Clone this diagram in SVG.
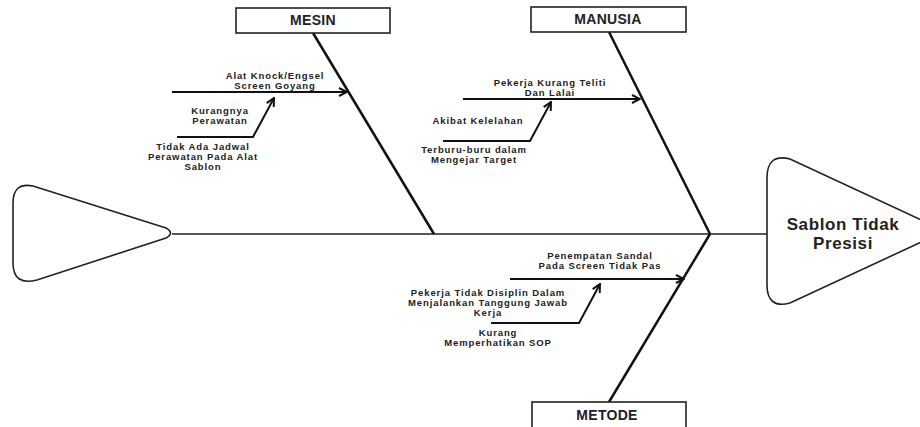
<svg xmlns="http://www.w3.org/2000/svg" width="920" height="427" viewBox="0 0 920 427">
<style>
.box{fill:#fff;stroke:#222;stroke-width:1.6}
.shape{fill:#fff;stroke:#222;stroke-width:1.6}
.title{font-family:"Liberation Sans",Arial,sans-serif;font-weight:bold;font-size:14px;fill:#222;text-anchor:middle;letter-spacing:0.3px}
.lbl{font-family:"Liberation Sans",Arial,sans-serif;font-weight:bold;font-size:9.5px;fill:#222;text-anchor:middle;letter-spacing:0.9px}
.head{font-family:"Liberation Sans",Arial,sans-serif;font-weight:bold;font-size:17px;fill:#222;text-anchor:middle;letter-spacing:0.6px}
.spine{stroke:#222;stroke-width:1.5;fill:none}
.bone{stroke:#111;stroke-width:2.5;fill:none}
.arr{stroke:#111;stroke-width:2;fill:none;marker-end:url(#ah)}
</style>
<defs>
<marker id="ah" viewBox="0 0 10 10" refX="9" refY="5" markerWidth="5" markerHeight="5" orient="auto">
<path d="M1,1 L9,5 L1,9" fill="none" stroke="#111" stroke-width="2" stroke-linejoin="miter"/>
</marker>
</defs>
<rect width="920" height="427" fill="#fff"/>
<g id="connectors">
<line class="spine" x1="172" y1="234" x2="767" y2="234"/>
<line class="bone" x1="313" y1="33" x2="434" y2="234"/>
<line class="bone" x1="609" y1="32" x2="710" y2="234"/>
<line class="bone" x1="710" y1="234" x2="609" y2="402"/>
<line class="arr" x1="172" y1="92" x2="347" y2="92"/>
<polyline class="arr" points="177,137 253,137 274,98"/>
<line class="arr" x1="463" y1="99" x2="640" y2="99"/>
<polyline class="arr" points="443,141 530,141 551,102"/>
<line class="arr" x1="510" y1="279" x2="684" y2="279"/>
<polyline class="arr" points="491,323 579,323 600,284"/>
</g>
<g id="tail">
<path class="shape" d="M13,203 Q13,182 33,186 L166,228 Q175,233 166,238 L37,280 Q13,286 13,263 Z"/>
</g>
<g id="head">
<path class="shape" d="M767,178 Q767,153 790,159 L945,231 L790,303 Q767,309 767,285 Z"/>
<text class="head" x="843" y="230">Sablon Tidak</text>
<text class="head" x="843" y="249">Presisi</text>
</g>
<g id="mesin">
<rect class="box" x="236" y="8" width="154" height="25"/>
<text class="title" x="313" y="25">MESIN</text>
</g>
<g id="manusia">
<rect class="box" x="531" y="7" width="155" height="25"/>
<text class="title" x="608" y="24">MANUSIA</text>
</g>
<g id="metode">
<rect class="box" x="532" y="402" width="154" height="30"/>
<text class="title" x="607" y="420">METODE</text>
</g>
<g id="cause-alat-knock">
<text class="lbl" x="275" y="79">Alat Knock/Engsel</text>
<text class="lbl" x="275" y="89">Screen Goyang</text>
</g>
<g id="cause-kurangnya-perawatan">
<text class="lbl" x="220" y="114">Kurangnya</text>
<text class="lbl" x="220" y="124">Perawatan</text>
</g>
<g id="cause-tidak-ada-jadwal">
<text class="lbl" x="203" y="150">Tidak Ada Jadwal</text>
<text class="lbl" x="203" y="160">Perawatan Pada Alat</text>
<text class="lbl" x="203" y="170">Sablon</text>
</g>
<g id="cause-pekerja-kurang-teliti">
<text class="lbl" x="550" y="86">Pekerja Kurang Teliti</text>
<text class="lbl" x="550" y="96">Dan Lalai</text>
</g>
<g id="cause-akibat-kelelahan">
<text class="lbl" x="478" y="124">Akibat Kelelahan</text>
</g>
<g id="cause-terburu-buru">
<text class="lbl" x="474" y="153">Terburu-buru dalam</text>
<text class="lbl" x="474" y="163">Mengejar Target</text>
</g>
<g id="cause-penempatan-sandal">
<text class="lbl" x="600" y="259">Penempatan Sandal</text>
<text class="lbl" x="600" y="269">Pada Screen Tidak Pas</text>
</g>
<g id="cause-pekerja-tidak-disiplin">
<text class="lbl" x="488" y="296">Pekerja Tidak Disiplin Dalam</text>
<text class="lbl" x="488" y="306">Menjalankan Tanggung Jawab</text>
<text class="lbl" x="488" y="316">Kerja</text>
</g>
<g id="cause-kurang-sop">
<text class="lbl" x="498" y="336">Kurang</text>
<text class="lbl" x="498" y="346">Memperhatikan SOP</text>
</g>
</svg>
